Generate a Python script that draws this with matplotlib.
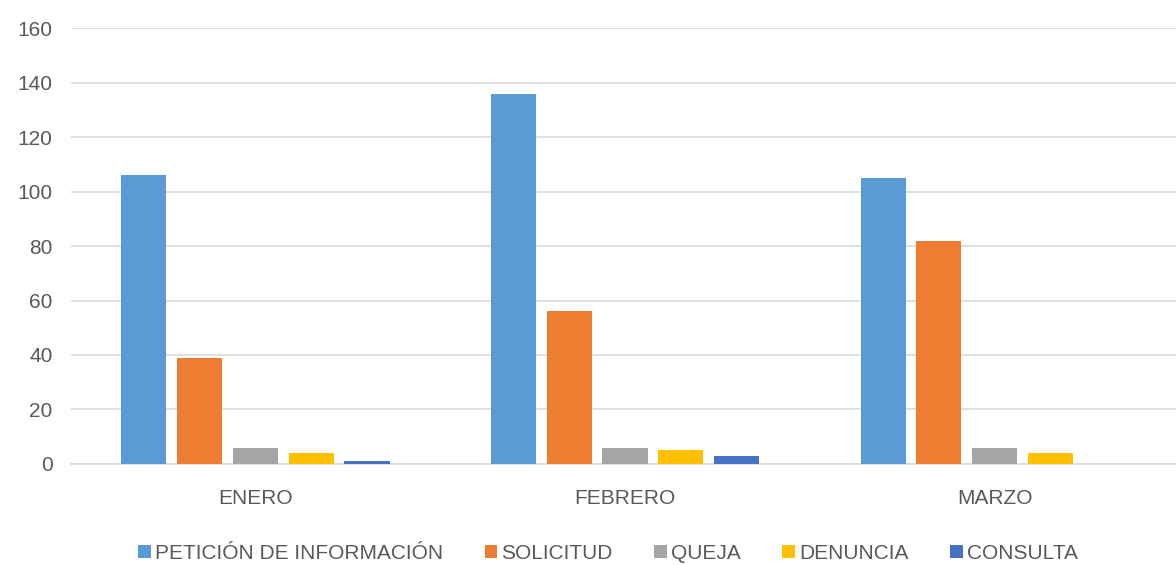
import matplotlib.pyplot as plt
import numpy as np

meses = ["ENERO", "FEBRERO", "MARZO"]
series = ["PETICIÓN DE INFORMACIÓN", "SOLICITUD", "QUEJA", "DENUNCIA", "CONSULTA"]
peticion = [106, 136, 105]
solicitud = [39, 56, 82]
queja = [6, 6, 6]
denuncia = [4, 5, 4]
consulta = [1, 3, 0]
colores = ["#5B9BD5", "#ED7D31", "#A5A5A5", "#FFC000", "#4472C4"]

plt.rcParams['font.family'] = ['Liberation Sans', 'DejaVu Sans']
gris = "#595959"

fig = plt.figure(figsize=(11.76, 5.65), dpi=100)
ax = fig.add_axes([0.060, 0.179, 0.943, 0.771])

x = np.arange(len(meses))
ancho = 0.122
paso = 0.151
valores = [peticion, solicitud, queja, denuncia, consulta]
for i, (nombre, vals) in enumerate(zip(series, valores)):
    ax.bar(x + (i - 2) * paso, vals, ancho, color=colores[i], label=nombre,
           linewidth=0, zorder=3)

ax.set_xlim(-0.5, 2.5)
ax.set_ylim(0, 160)
ax.set_yticks(range(0, 161, 20))
ax.set_xticks(x)
ax.set_xticklabels(meses)
ax.yaxis.grid(True, color="#D9D9D9", linewidth=1.2, zorder=0)
ax.set_axisbelow(True)
for s in ["top", "right", "left"]:
    ax.spines[s].set_visible(False)
ax.spines["bottom"].set_color("#D9D9D9")
ax.spines["bottom"].set_linewidth(1.2)
ax.tick_params(axis="both", length=0, colors=gris, labelsize=15)
ax.tick_params(axis="x", pad=18)
ax.tick_params(axis="y", pad=13)

fig.legend(loc="center", bbox_to_anchor=(0.517, 0.02), ncol=5, frameon=False,
           fontsize=15, labelcolor=gris, handlelength=0.6, handleheight=0.6,
           handletextpad=0.2, columnspacing=2.0)

fig.savefig("out.png", dpi=100)
